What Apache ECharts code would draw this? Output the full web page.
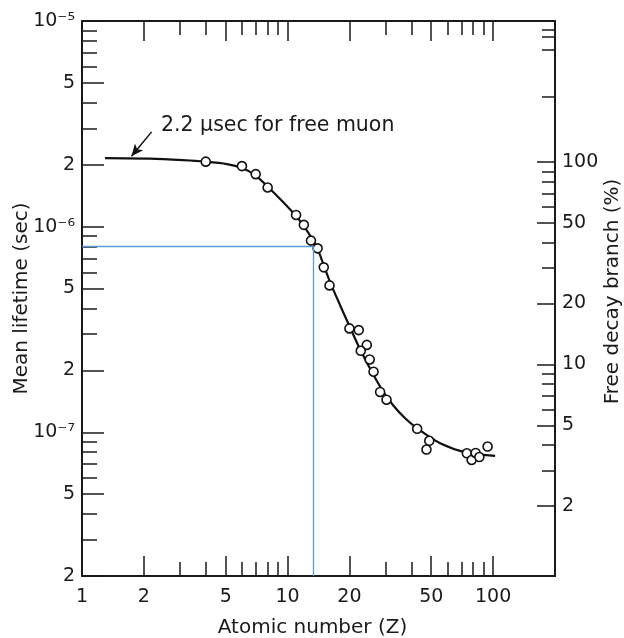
<!DOCTYPE html>
<html>
<head>
<meta charset="utf-8">
<script src="https://cdn.jsdelivr.net/npm/echarts@6/dist/echarts.min.js"></script>
<style>html,body{margin:0;padding:0;background:#fff}#c{width:624px;height:638px}</style>
</head>
<body>
<div id="c"></div>
<script>
// ---- data ----
const pointZ   = [4, 6, 7, 8, 11, 12, 13, 14, 15, 16, 20, 22.2, 24.3, 22.7, 25.1, 26.2, 28.2, 30.3, 42.7, 48.9, 47.4, 74.5, 78.6, 82.2, 85.7, 94.0];
const pointTau = [2.07e-6, 1.97e-6, 1.80e-6, 1.55e-6, 1.14e-6, 1.02e-6, 8.55e-7, 7.84e-7, 6.34e-7, 5.18e-7, 3.20e-7, 3.14e-7, 2.66e-7, 2.49e-7, 2.26e-7, 1.97e-7, 1.57e-7, 1.44e-7, 1.04e-7, 9.09e-8, 8.24e-8, 7.90e-8, 7.33e-8, 7.93e-8, 7.58e-8, 8.52e-8];

const curveZ   = [1.294, 2.142, 3.10, 3.968, 5.077, 6.005, 6.949, 7.949, 9.508, 10.88, 11.90, 13.01, 14.07, 15.05, 16.10, 18.01, 19.92, 22.53, 26.07, 29.15, 32.62, 37.31, 42.68, 55.23, 74.72, 102.3];
const curveTau = [2.154e-6, 2.142e-6, 2.107e-6, 2.072e-6, 2.014e-6, 1.926e-6, 1.781e-6, 1.575e-6, 1.316e-6, 1.138e-6, 1.017e-6, 8.89e-7, 7.687e-7, 6.425e-7, 5.37e-7, 4.15e-7, 3.317e-7, 2.534e-7, 1.915e-7, 1.583e-7, 1.353e-7, 1.169e-7, 1.046e-7, 8.843e-8, 7.947e-8, 7.684e-8];

const refPoint = [13.35, 8.0e-7];            // blue guide lines
const arrowFrom = [2.18, 2.89e-6];
const arrowTo   = [1.74, 2.2e-6];
const annotation = '2.2 μsec for free muon';

const xRange = [1, 200];
const xTickValues = [1, 2, 5, 10, 20, 50, 100];
const xTickLabels = ['1', '2', '5', '10', '20', '50', '100'];
const xMinorTicks = [3, 4, 6, 7, 8, 9, 30, 40, 60, 70, 80, 90];

const leftRange = [2e-8, 1e-5];
const leftTickValues = [1e-5, 5e-6, 2e-6, 1e-6, 5e-7, 2e-7, 1e-7, 5e-8, 2e-8];
const leftTickLabels = ['10⁻⁵', '5', '2', '10⁻⁶', '5', '2', '10⁻⁷', '5', '2'];
const leftMinorTicks = [9e-6, 8e-6, 7e-6, 6e-6, 4e-6, 3e-6, 9e-7, 8e-7, 7e-7, 6e-7, 4e-7, 3e-7, 9e-8, 8e-8, 7e-8, 6e-8, 4e-8, 3e-8];

const rightRange = [0.903, 497];
const rightTickValues = [100, 50, 20, 10, 5, 2];
const rightTickLabels = ['100', '50', '20', '10', '5', '2'];
const rightMinorTicks = [449, 414, 357, 209, 90, 80, 70, 60, 40, 30, 9, 8, 7, 6, 4, 3];

// ---- helpers ----
const L = Math.log10;
const ink = '#1a1a1a';
const font = 'DejaVu Sans';
function fmt(vals, labels) {
  const lv = vals.map(L);
  return function (v) {
    let best = 0, d = Infinity;
    lv.forEach((t, i) => { const e = Math.abs(t - v); if (e < d) { d = e; best = i; } });
    return labels[best];
  };
}
const tickLine = { color: ink, width: 1.5 };

function xAxisDef(pos, major, withLabel) {
  const vals = (major ? xTickValues : xMinorTicks).map(L);
  const a = {
    type: 'value', position: pos, min: L(xRange[0]), max: L(xRange[1]),
    axisLine: { show: major, onZero: false, lineStyle: { color: ink, width: 2 } },
    axisTick: { show: true, inside: true, length: major ? 20 : 14, customValues: vals, lineStyle: tickLine },
    axisLabel: withLabel ? { show: true, customValues: vals, formatter: fmt(xTickValues, xTickLabels), margin: 12, fontSize: 19, fontFamily: font, color: ink } : { show: false },
    splitLine: { show: false }
  };
  if (withLabel) {
    a.name = 'Atomic number (Z)';
    a.nameLocation = 'middle';
    a.nameGap = 42;
    a.nameMoveOverlap = false;
    a.nameTextStyle = { fontSize: 20, fontFamily: font, color: ink, padding: [0, 12, 0, 0] };
  }
  return a;
}
function yAxisDef(side, major) {
  const isLeft = side === 'left';
  const range = isLeft ? leftRange : rightRange;
  const majVals = isLeft ? leftTickValues : rightTickValues;
  const majLabels = isLeft ? leftTickLabels : rightTickLabels;
  const vals = (major ? majVals : (isLeft ? leftMinorTicks : rightMinorTicks)).map(L);
  const a = {
    type: 'value', position: side, min: L(range[0]), max: L(range[1]),
    axisLine: { show: major, onZero: false, lineStyle: { color: ink, width: 2 } },
    axisTick: { show: true, inside: true, length: major ? (isLeft ? 22 : 18) : (isLeft ? 15 : 13), customValues: vals, lineStyle: tickLine },
    axisLabel: major ? { show: true, customValues: vals, formatter: fmt(majVals, majLabels), margin: 7, fontSize: 19, fontFamily: font, color: ink } : { show: false },
    splitLine: { show: false }
  };
  if (major) {
    a.name = isLeft ? 'Mean lifetime (sec)' : 'Free decay branch (%)';
    a.nameLocation = 'middle';
    a.nameRotate = 90;
    a.nameGap = isLeft ? 50 : 48;
    a.nameMoveOverlap = false;
    a.nameTextStyle = { fontSize: 20, fontFamily: font, color: ink, padding: isLeft ? [0, 0, 0, 0] : [0, 0, 0, 14] };
  }
  return a;
}

const curveData = curveZ.map((z, i) => [L(z), L(curveTau[i])]);
const pointData = pointZ.map((z, i) => [L(z), L(pointTau[i])]);

const chart = echarts.init(document.getElementById('c'), null, { renderer: 'canvas' });
chart.setOption({
  animation: false,
  backgroundColor: '#fff',
  grid: { left: 82, right: 69, top: 21, bottom: 62, containLabel: false, outerBoundsMode: 'none' },
  xAxis: [xAxisDef('bottom', true, true), xAxisDef('bottom', false, false), xAxisDef('top', true, false), xAxisDef('top', false, false)],
  yAxis: [yAxisDef('left', true), yAxisDef('left', false), yAxisDef('right', true), yAxisDef('right', false)],
  graphic: [{
    type: 'text', x: 161, y: 126, silent: true,
    style: { text: annotation, fontSize: 20.5, fontFamily: font, fill: ink, textVerticalAlign: 'middle' }
  }],
  series: [
    {
      type: 'line', xAxisIndex: 0, yAxisIndex: 0, data: curveData, smooth: 0.3,
      showSymbol: false, lineStyle: { color: '#111', width: 2.2 }, z: 2, silent: true,
      markLine: {
        silent: true, symbol: ['none', 'none'], label: { show: false },
        lineStyle: { color: '#5b9bd8', width: 1.3, type: 'solid' },
        data: [
          [{ coord: [L(refPoint[0]), L(leftRange[0])] }, { coord: [L(refPoint[0]), L(refPoint[1])] }],
          [{ coord: [L(xRange[0]), L(refPoint[1])] }, { coord: [L(refPoint[0]), L(refPoint[1])] }]
        ]
      }
    },
    {
      type: 'line', xAxisIndex: 0, yAxisIndex: 0, data: [], silent: true,
      markLine: {
        silent: true, symbol: ['none', 'arrow'], symbolSize: [8, 12], label: { show: false },
        lineStyle: { color: '#111', width: 1.5, type: 'solid', curveness: 0.15 },
        data: [[{ coord: [L(arrowFrom[0]), L(arrowFrom[1])] }, { coord: [L(arrowTo[0]), L(arrowTo[1])] }]]
      }
    },
    {
      type: 'scatter', xAxisIndex: 0, yAxisIndex: 0, data: pointData, symbol: 'circle', symbolSize: 9, z: 3, silent: true,
      itemStyle: { color: '#fff', borderColor: '#111', borderWidth: 1.6, opacity: 1 }
    }
  ]
});
</script>
</body>
</html>
